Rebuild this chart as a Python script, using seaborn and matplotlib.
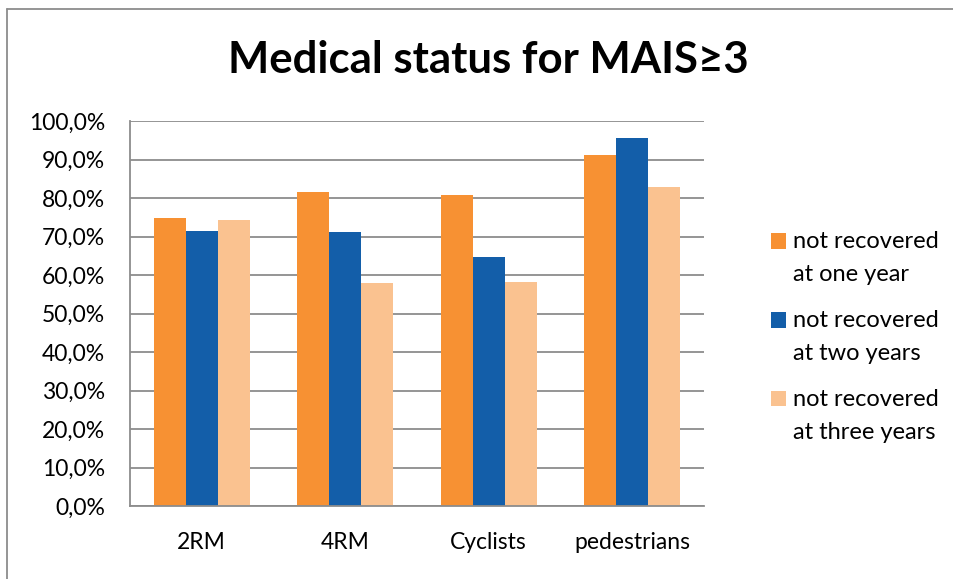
import numpy as np
import pandas as pd
import matplotlib.pyplot as plt
import seaborn as sns
from matplotlib.lines import Line2D
from matplotlib.patches import Rectangle
from matplotlib.legend_handler import HandlerPatch
from matplotlib.ticker import FuncFormatter

# Data (% not recovered)
categories = ["2RM", "4RM", "Cyclists", "pedestrians"]
series_names = [
    "not recovered\nat one year",
    "not recovered\nat two years",
    "not recovered\nat three years",
]
one_year = [74.9, 81.6, 80.8, 91.1]
two_years = [71.3, 71.2, 64.8, 95.5]
three_years = [74.3, 58.0, 58.2, 82.9]

colors = ["#F79133", "#135EA9", "#FAC290"]

rows = []
for name, vals in zip(series_names, [one_year, two_years, three_years]):
    for cat, v in zip(categories, vals):
        rows.append({"Group": cat, "Series": name, "Value": v})
df = pd.DataFrame(rows)

sns.set_style("white")
plt.rcParams["font.family"] = ["Lato", "DejaVu Sans"]
plt.rcParams["text.color"] = "black"

fig = plt.figure(figsize=(9.54, 5.79), dpi=100)
ax = fig.add_axes([130 / 954, 1 - 506 / 579, (704 - 130) / 954, (506 - 121) / 579])

sns.barplot(
    data=df,
    x="Group",
    y="Value",
    hue="Series",
    palette=colors,
    width=0.67,
    gap=0,
    saturation=1,
    linewidth=0,
    ax=ax,
)

ax.set_ylim(0, 100)
ax.set_yticks(np.arange(0, 101, 10))
ax.yaxis.set_major_formatter(FuncFormatter(lambda v, p: f"{v:.1f}%".replace(".", ",")))
ax.yaxis.grid(True, color="#8c8c8c", linewidth=1.3)
ax.set_axisbelow(True)
ax.set_xlabel("")
ax.set_ylabel("")
ax.tick_params(axis="both", length=0, labelsize=16.5, colors="black")
ax.tick_params(axis="x", pad=19)
ax.tick_params(axis="y", pad=18)

for side in ["top", "right"]:
    ax.spines[side].set_visible(False)
for side in ["left", "bottom"]:
    ax.spines[side].set_color("#8c8c8c")
    ax.spines[side].set_linewidth(1.3)


# legend squares sit next to the first line of each two-line label
def top_square(legend, orig_handle, xdescent, ydescent, width, height, fontsize):
    return Rectangle((-xdescent, -ydescent + 12.5), width, height)


handles, labels = ax.get_legend_handles_labels()
leg = ax.legend(
    handles,
    labels,
    loc="center left",
    bbox_to_anchor=(771 / 954, 1 - 337 / 579),
    bbox_transform=fig.transFigure,
    frameon=False,
    fontsize=17,
    handlelength=0.64,
    handleheight=0.64,
    handletextpad=0.3,
    labelspacing=1.05,
    borderaxespad=0,
    borderpad=0,
    handler_map={Rectangle: HandlerPatch(patch_func=top_square)},
)
for t in leg.get_texts():
    t.set_linespacing(1.7)
for h in leg.legend_handles:
    h.set_linewidth(0)

fig.text(488 / 954, 1 - 60 / 579, "Medical status for MAIS≥3",
         ha="center", va="center", fontsize=31.5, fontweight="bold")

# outer chart border (left and top only visible)
fig.add_artist(Line2D([7 / 954, 7 / 954], [0, 1 - 8.5 / 579],
                      transform=fig.transFigure, color="#8c8c8c", linewidth=1.3))
fig.add_artist(Line2D([7 / 954, 1], [1 - 8.5 / 579, 1 - 8.5 / 579],
                      transform=fig.transFigure, color="#8c8c8c", linewidth=1.3))

fig.savefig("out.png", dpi=100)
